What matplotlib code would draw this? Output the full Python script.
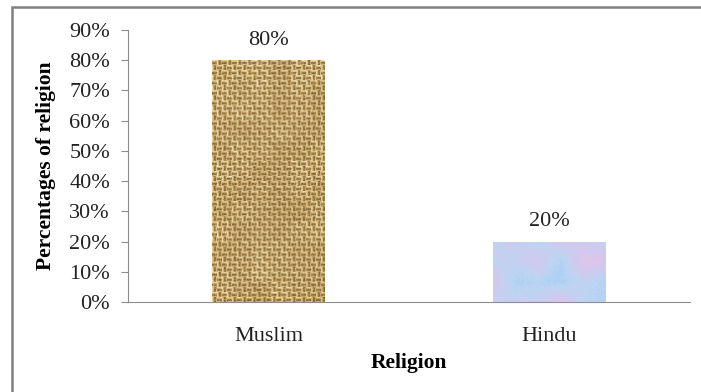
import numpy as np
import matplotlib
matplotlib.use("Agg")
import matplotlib.pyplot as plt
from matplotlib.patches import Rectangle
from matplotlib.colors import LinearSegmentedColormap
from matplotlib.ticker import PercentFormatter

categories = ["Muslim", "Hindu"]
shares = [0.80, 0.20]
value_labels = ["80%", "20%"]
yticks = [0.0, 0.1, 0.2, 0.3, 0.4, 0.5, 0.6, 0.7, 0.8, 0.9]

plt.rcParams["font.family"] = ["Liberation Serif", "DejaVu Serif"]

rng = np.random.default_rng(7)


def burlap(h, w, cell=5):
    # basket weave: alternating horizontal / vertical thread blocks
    yy, xx = np.mgrid[0:h, 0:w]
    block = ((yy // cell) + (xx // cell)) % 2
    horiz = 0.5 + 0.5 * np.cos(2 * np.pi * (yy % cell) / cell)
    vert = 0.5 + 0.5 * np.cos(2 * np.pi * (xx % cell) / cell)
    img = np.where(block == 0, horiz, vert)
    img = 0.7 * img + 0.3 * rng.random((h, w))
    # some large, soft darker patches
    coarse = rng.random((h // 20 + 2, w // 20 + 2))
    coarse = np.kron(coarse, np.ones((20, 20)))[:h, :w]
    img = img * (0.8 + 0.2 * coarse)
    return img


def marble(h, w):
    coarse = rng.random((h // 25 + 2, w // 25 + 2))
    ys = np.linspace(0, coarse.shape[0] - 1, h)
    xs = np.linspace(0, coarse.shape[1] - 1, w)
    y0 = np.floor(ys).astype(int).clip(0, coarse.shape[0] - 2)
    x0 = np.floor(xs).astype(int).clip(0, coarse.shape[1] - 2)
    fy = (ys - y0)[:, None]
    fx = (xs - x0)[None, :]
    a = coarse[y0][:, x0]
    b = coarse[y0][:, x0 + 1]
    c = coarse[y0 + 1][:, x0]
    d = coarse[y0 + 1][:, x0 + 1]
    smooth = a * (1 - fx) * (1 - fy) + b * fx * (1 - fy) + c * (1 - fx) * fy + d * fx * fy
    return np.clip(0.8 * smooth + 0.2 * rng.random((h, w)), 0, 1)


burlap_cmap = LinearSegmentedColormap.from_list(
    "burlap", ["#7d5e2c", "#b8975a", "#dcc38c", "#f8ecc8"])
marble_cmap = LinearSegmentedColormap.from_list(
    "marble", ["#a6cbf0", "#bcd6f4", "#d2c8ee", "#e4c6ea"])

fig = plt.figure(figsize=(7.01, 3.92), dpi=100)
ax = fig.add_axes([0.1826, 0.2296, 0.8014, 0.6939])

bars = ax.bar(categories, shares, width=0.4, color="none", edgecolor="none")

textures = [(burlap(240, 114), burlap_cmap), (marble(60, 114), marble_cmap)]
for bar, (tex, cmap) in zip(bars, textures):
    x0, w, h = bar.get_x(), bar.get_width(), bar.get_height()
    im = ax.imshow(tex, cmap=cmap, extent=(x0, x0 + w, 0, h), aspect="auto",
                   interpolation="bilinear", zorder=2)
    im.set_clip_path(bar)

for i, (v, lab) in enumerate(zip(shares, value_labels)):
    ax.text(i, v + 0.066, lab, ha="center", va="center", fontsize=16, color="#222222")

ax.set_xlim(-0.5, 1.5)
ax.set_ylim(0, 0.9)
ax.set_yticks(yticks)
ax.yaxis.set_major_formatter(PercentFormatter(1.0, decimals=0))

for side in ["top", "right"]:
    ax.spines[side].set_visible(False)
ax.spines["left"].set_color("#8c8c8c")
ax.spines["bottom"].set_color("#8c8c8c")
ax.tick_params(axis="y", length=5, color="#8c8c8c", pad=8, labelsize=16, labelcolor="#222222")
ax.tick_params(axis="x", length=0, pad=18, labelsize=16, labelcolor="#222222")

ax.set_xlabel("Religion", fontsize=15.5, fontweight="bold", labelpad=5)
ax.set_ylabel("Percentages of religion", fontsize=15.5, fontweight="bold")
ax.yaxis.set_label_coords(-0.128, 0.5)

# chart frame
fig.patches.append(Rectangle((12 / 701, -0.1), 1.2, 1.1 - 7 / 392,
                             transform=fig.transFigure, fill=False,
                             edgecolor="#808080", linewidth=1.8))

fig.savefig("out.png", dpi=100)
